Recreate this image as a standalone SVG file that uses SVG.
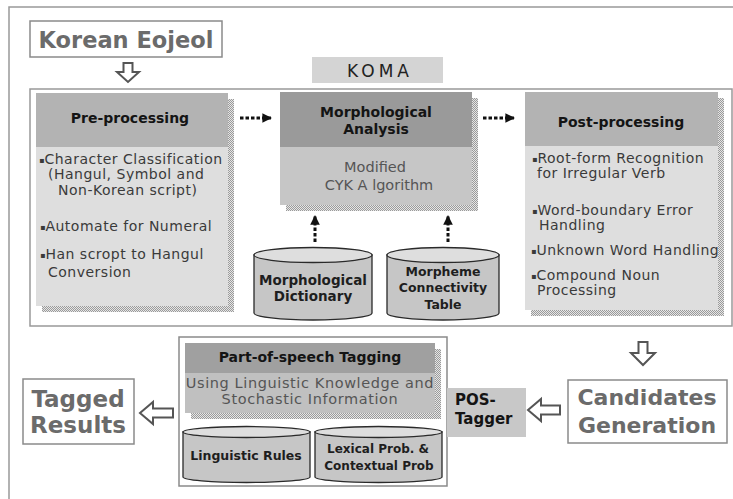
<svg xmlns="http://www.w3.org/2000/svg" width="733" height="499" viewBox="0 0 733 499">
<defs>
<pattern id="dots" width="2" height="2" patternUnits="userSpaceOnUse">
<rect width="2" height="2" fill="#e6e6e6"/>
<rect width="1" height="1" fill="#9a9a9a"/>
<rect x="1" y="1" width="1" height="1" fill="#9a9a9a"/>
</pattern>
<marker id="ah" viewBox="0 0 10 10" refX="9" refY="5" markerWidth="3.2" markerHeight="3.2" orient="auto">
<path d="M0,0 L10,5 L0,10 Z" fill="#111"/>
</marker>
</defs>
<style>
text{font-family:"DejaVu Sans","Liberation Sans",sans-serif}
.big{font-weight:bold;fill:#6b6b6b;text-anchor:middle}
.hd{font-weight:bold;font-size:14px;fill:#141414;text-anchor:middle}
.body{font-size:14px;fill:#3a3a3a;letter-spacing:0.5px}
.mid{font-size:14.5px;fill:#555;text-anchor:middle}
.cyl{font-weight:bold;fill:#1e1e1e;text-anchor:middle}
.frame{fill:#fff;stroke:#999;stroke-width:1.5}
.lbl{fill:#fff;stroke:#8a8a8a;stroke-width:1.5}
.hol{fill:#fff;stroke:#555;stroke-width:2;stroke-linejoin:miter}
.dash{stroke:#111;stroke-width:3;stroke-dasharray:3.5 2;fill:none}
.cb{fill:#c6c6c6;stroke:#2a2a2a;stroke-width:1.3}
.ct{fill:#dedede;stroke:#2a2a2a;stroke-width:1.3}
.sh{fill:url(#dots)}
.bul{font-size:8px;letter-spacing:0}
</style>
<rect x="9" y="7" width="740" height="500" class="frame"/>

<g id="korean-eojeol">
<rect x="30" y="21" width="192" height="36" class="lbl"/>
<text x="126" y="48" class="big" font-size="22.5">Korean Eojeol</text>
</g>

<g id="koma">
<rect x="30" y="89" width="702" height="237" class="frame"/>
<rect x="312" y="57" width="131" height="26" fill="#d4d4d4"/>
<text x="380" y="77" font-size="17" fill="#222" text-anchor="middle" letter-spacing="4">KOMA</text>
</g>

<g id="pre-processing">
<rect x="42" y="99" width="192" height="213" class="sh"/>
<rect x="36" y="93" width="192" height="54" fill="#b3b3b3"/>
<rect x="36" y="147" width="192" height="159" fill="#dedede"/>
<text x="130" y="123" class="hd">Pre-processing</text>
<text x="39" y="164" class="body"><tspan class="bul" dy="-1">▪</tspan><tspan dy="1">Character Classification</tspan></text>
<text x="48" y="179" class="body">(Hangul, Symbol and</text>
<text x="58" y="195" class="body">Non-Korean script)</text>
<text x="40" y="231" class="body"><tspan class="bul" dy="-1">▪</tspan><tspan dy="1">Automate for Numeral</tspan></text>
<text x="40" y="259" class="body"><tspan class="bul" dy="-1">▪</tspan><tspan dy="1">Han scropt to Hangul</tspan></text>
<text x="48" y="277" class="body">Conversion</text>
</g>

<g id="morphological-analysis">
<rect x="286" y="98" width="192" height="113" class="sh"/>
<rect x="280" y="92" width="192" height="55" fill="#9a9a9a"/>
<rect x="280" y="147" width="192" height="58" fill="#c6c6c6"/>
<text x="376" y="117" class="hd">Morphological</text>
<text x="376" y="134" class="hd">Analysis</text>
<text x="375" y="172" class="mid">Modified</text>
<text x="379" y="190" class="mid">CYK A lgorithm</text>
</g>

<g id="post-processing">
<rect x="531" y="98" width="193" height="218" class="sh"/>
<rect x="525" y="92" width="193" height="54" fill="#b3b3b3"/>
<rect x="525" y="146" width="193" height="164" fill="#dedede"/>
<text x="621" y="127" class="hd">Post-processing</text>
<text x="532" y="163" class="body"><tspan class="bul" dy="-1">▪</tspan><tspan dy="1">Root-form Recognition</tspan></text>
<text x="537" y="178" class="body">for Irregular Verb</text>
<text x="532" y="215" class="body"><tspan class="bul" dy="-1">▪</tspan><tspan dy="1">Word-boundary Error</tspan></text>
<text x="539" y="230" class="body">Handling</text>
<text x="531" y="255" class="body"><tspan class="bul" dy="-1">▪</tspan><tspan dy="1">Unknown Word Handling</tspan></text>
<text x="531" y="280" class="body"><tspan class="bul" dy="-1">▪</tspan><tspan dy="1">Compound Noun</tspan></text>
<text x="537" y="295" class="body">Processing</text>
</g>

<g id="morphological-dictionary">
<path d="M254,255 L254,313 A59,7 0 0 0 372,313 L372,255 Z" class="cb"/>
<ellipse cx="313" cy="255" rx="59" ry="7.5" class="ct"/>
<text x="313" y="285" class="cyl" font-size="13.5">Morphological</text>
<text x="313" y="301" class="cyl" font-size="13.5">Dictionary</text>
</g>

<g id="morpheme-connectivity-table">
<path d="M387,255 L387,313 A56,7 0 0 0 499,313 L499,255 Z" class="cb"/>
<ellipse cx="443" cy="255" rx="56" ry="7.5" class="ct"/>
<text x="443" y="276" class="cyl" font-size="12.5">Morpheme</text>
<text x="443" y="292" class="cyl" font-size="12.5">Connectivity</text>
<text x="443" y="309" class="cyl" font-size="12.5">Table</text>
</g>

<g id="pos-tagging">
<rect x="179" y="337" width="268" height="149" class="lbl" stroke="#999"/>
<rect x="191" y="349" width="250" height="70" class="sh"/>
<rect x="185" y="343" width="250" height="30" fill="#a0a0a0"/>
<rect x="185" y="373" width="250" height="40" fill="#c0c0c0"/>
<text x="310" y="362" class="hd" font-size="13.5">Part-of-speech Tagging</text>
<text x="310" y="388" class="mid" font-size="14" letter-spacing="0.6">Using Linguistic Knowledge and</text>
<text x="310" y="404" class="mid" font-size="14" letter-spacing="0.6">Stochastic Information</text>
</g>

<g id="linguistic-rules">
<path d="M183,432 L183,477 A63.5,5.5 0 0 0 310,477 L310,432 Z" class="cb"/>
<ellipse cx="246.5" cy="432" rx="63.5" ry="5.5" class="ct"/>
<text x="246" y="460" class="cyl" font-size="12.5">Linguistic Rules</text>
</g>

<g id="lexical-prob">
<path d="M315,432 L315,477 A63.5,5.5 0 0 0 442,477 L442,432 Z" class="cb"/>
<ellipse cx="378.5" cy="432" rx="63.5" ry="5.5" class="ct"/>
<text x="378" y="453" class="cyl" font-size="12">Lexical Prob. &amp;</text>
<text x="379" y="470" class="cyl" font-size="12">Contextual Prob</text>
</g>

<g id="pos-tagger">
<rect x="447" y="388" width="79" height="49" fill="#c8c8c8"/>
<text x="455" y="405" font-size="15" font-weight="bold" fill="#141414">POS-</text>
<text x="455" y="424" font-size="15" font-weight="bold" fill="#141414">Tagger</text>
</g>

<g id="candidates-generation">
<rect x="568" y="380" width="159" height="63" class="lbl"/>
<text x="647" y="405" class="big" font-size="22">Candidates</text>
<text x="647" y="433" class="big" font-size="22">Generation</text>
</g>

<g id="tagged-results">
<rect x="23" y="379" width="111" height="65" class="lbl"/>
<text x="78" y="407" class="big" font-size="23">Tagged</text>
<text x="78" y="433" class="big" font-size="23">Results</text>
</g>

<g id="connectors">
<polygon points="123.5,63 132.5,63 132.5,72 139,72 128,82 117,72 123.5,72" class="hol"/>
<polygon points="638.5,342 647.5,342 647.5,353 655,353 643,365 631,353 638.5,353" class="hol"/>
<polygon points="140,413 153,402 153,408.5 173,408.5 173,417.5 153,417.5 153,424" class="hol"/>
<polygon points="528,410 541,399 541,405.5 560,405.5 560,414.5 541,414.5 541,421" class="hol"/>
<line x1="240" y1="118" x2="271" y2="118" class="dash" marker-end="url(#ah)"/>
<line x1="483" y1="118" x2="514" y2="118" class="dash" marker-end="url(#ah)"/>
<line x1="315" y1="242" x2="315" y2="216" class="dash" marker-end="url(#ah)"/>
<line x1="448" y1="242" x2="448" y2="216" class="dash" marker-end="url(#ah)"/>
</g>
</svg>
